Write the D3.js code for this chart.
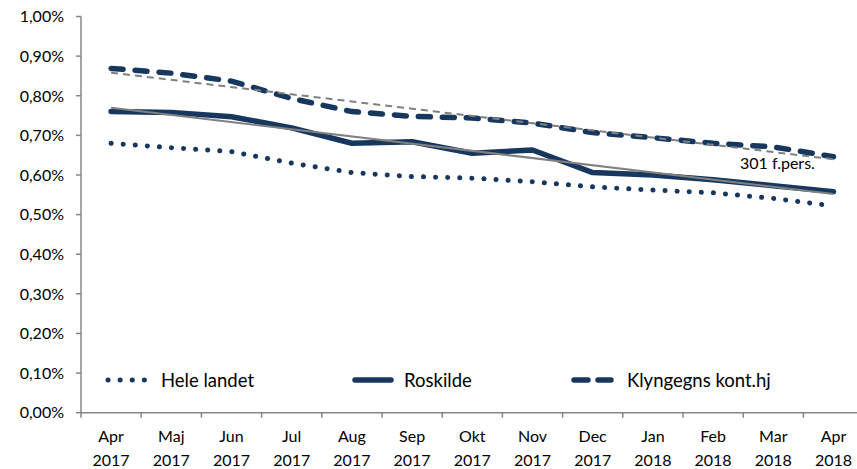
<!doctype html>
<html lang="da">
<head>
  <meta charset="utf-8">
  <style>
    body { margin: 0; background: #fff; }
    svg text { font-family: Lato, "Noto Sans", sans-serif; fill: #000; }
  </style>
</head>
<body>
  <div id="chart"></div>
  <script src="https://d3js.org/d3.v7.min.js"></script>
  <script>
  // data (percent)
  var months = ["Apr 2017", "Maj 2017", "Jun 2017", "Jul 2017", "Aug 2017", "Sep 2017", "Okt 2017",
                "Nov 2017", "Dec 2017", "Jan 2018", "Feb 2018", "Mar 2018", "Apr 2018"];
  var heleLandet = [0.680, 0.669, 0.659, 0.630, 0.606, 0.596, 0.592, 0.583, 0.570, 0.562, 0.555, 0.541, 0.522];
  var roskilde   = [0.760, 0.758, 0.747, 0.719, 0.680, 0.684, 0.655, 0.663, 0.606, 0.600, 0.588, 0.573, 0.558];
  var klynge     = [0.869, 0.857, 0.837, 0.793, 0.760, 0.748, 0.744, 0.731, 0.707, 0.694, 0.680, 0.671, 0.646];
  var yTicks = [0, 0.1, 0.2, 0.3, 0.4, 0.5, 0.6, 0.7, 0.8, 0.9, 1.0];

  var width = 857, height = 469;
  var navy = "#17375e", grey = "#808080", axisCol = "#868686";

  var svg = d3.select("#chart").append("svg")
      .attr("width", width)
      .attr("height", height);

  var x = d3.scaleBand()
      .domain(months)
      .range([81, 81 + 13 * 60.2]);

  var y = d3.scaleLinear()
      .domain([0, 1])
      .range([412.7, 16.5]);

  var fmt = d3.formatLocale({decimal: ",", thousands: ".", grouping: [3], currency: ["", " kr"]}).format(".2f");

  // y axis
  svg.append("line")
     .attr("x1", 81).attr("x2", 81)
     .attr("y1", y(1)).attr("y2", y(0))
     .attr("stroke", axisCol).attr("stroke-width", 1.5);

  svg.selectAll(".ytick").data(yTicks).enter()
     .append("line")
     .attr("x1", 76).attr("x2", 81)
     .attr("y1", function (d) { return y(d); })
     .attr("y2", function (d) { return y(d); })
     .attr("stroke", axisCol).attr("stroke-width", 1.5);

  svg.selectAll(".ylab").data(yTicks).enter()
     .append("text")
     .attr("x", 64)
     .attr("y", function (d) { return y(d); })
     .attr("dy", "0.36em")
     .attr("text-anchor", "end")
     .style("font-size", "16px")
     .text(function (d) { return fmt(d) + "%"; });

  // x axis
  var xEnd = x.range()[1];
  svg.append("line")
     .attr("x1", 81).attr("x2", xEnd)
     .attr("y1", y(0)).attr("y2", y(0))
     .attr("stroke", axisCol).attr("stroke-width", 1.5);

  var bounds = months.map(function (m) { return x(m); }).concat([xEnd]);
  svg.selectAll(".xtick").data(bounds).enter()
     .append("line")
     .attr("x1", function (d) { return d; })
     .attr("x2", function (d) { return d; })
     .attr("y1", y(0)).attr("y2", y(0) + 5)
     .attr("stroke", axisCol).attr("stroke-width", 1.5);

  var xl = svg.selectAll(".xlab").data(months).enter()
     .append("text")
     .attr("text-anchor", "middle")
     .style("font-size", "16px");
  xl.append("tspan")
     .attr("x", function (d) { return x(d) + x.bandwidth() / 2; })
     .attr("y", 442)
     .text(function (d) { return d.split(" ")[0]; });
  xl.append("tspan")
     .attr("x", function (d) { return x(d) + x.bandwidth() / 2; })
     .attr("y", 466)
     .text(function (d) { return d.split(" ")[1]; });

  var cx = function (i) { return x(months[i]) + x.bandwidth() / 2; };
  var line = d3.line()
      .x(function (d, i) { return cx(i); })
      .y(function (d) { return y(d); });

  // linear trend (least squares, like the spreadsheet trendline)
  function trend(vals) {
    var n = vals.length, mx = (n - 1) / 2, my = d3.mean(vals), sxy = 0, sxx = 0;
    vals.forEach(function (v, i) { sxy += (i - mx) * (v - my); sxx += (i - mx) * (i - mx); });
    var b = sxy / sxx;
    return [[0, my - b * mx], [n - 1, my + b * (n - 1 - mx)]];
  }
  var tline = d3.line()
      .x(function (d) { return cx(d[0]); })
      .y(function (d) { return y(d[1]); });

  // series
  svg.append("path").datum(heleLandet)
     .attr("d", line).attr("fill", "none")
     .attr("stroke", navy).attr("stroke-width", 5)
     .attr("stroke-linecap", "round").attr("stroke-dasharray", "0.1 12");

  svg.append("path").datum(roskilde)
     .attr("d", line).attr("fill", "none")
     .attr("stroke", navy).attr("stroke-width", 5.5)
     .attr("stroke-linecap", "round").attr("stroke-linejoin", "round");

  svg.append("path").datum(klynge)
     .attr("d", line).attr("fill", "none")
     .attr("stroke", navy).attr("stroke-width", 5.5)
     .attr("stroke-linecap", "round").attr("stroke-dasharray", "12 12");

  // trend lines
  svg.append("path").datum(trend(roskilde))
     .attr("d", tline).attr("fill", "none")
     .attr("stroke", grey).attr("stroke-width", 2);

  svg.append("path").datum(trend(klynge))
     .attr("d", tline).attr("fill", "none")
     .attr("stroke", grey).attr("stroke-width", 2)
     .attr("stroke-dasharray", "7 5");

  svg.append("text")
     .attr("x", 740).attr("y", 169)
     .style("font-size", "16px")
     .text("301 f.pers.");

  // legend
  var ly = 380;
  svg.append("line")
     .attr("x1", 108).attr("x2", 145).attr("y1", ly).attr("y2", ly)
     .attr("stroke", navy).attr("stroke-width", 5)
     .attr("stroke-linecap", "round").attr("stroke-dasharray", "0.1 12");
  svg.append("text").attr("x", 161).attr("y", ly).attr("dy", "0.36em")
     .style("font-size", "18.5px").text("Hele landet");

  svg.append("line")
     .attr("x1", 355).attr("x2", 391).attr("y1", ly).attr("y2", ly)
     .attr("stroke", navy).attr("stroke-width", 5.5)
     .attr("stroke-linecap", "round");
  svg.append("text").attr("x", 404).attr("y", ly).attr("dy", "0.36em")
     .style("font-size", "18.5px").text("Roskilde");

  svg.append("line")
     .attr("x1", 574).attr("x2", 611).attr("y1", ly).attr("y2", ly)
     .attr("stroke", navy).attr("stroke-width", 5.5)
     .attr("stroke-linecap", "round").attr("stroke-dasharray", "14 10");
  svg.append("text").attr("x", 627).attr("y", ly).attr("dy", "0.36em")
     .style("font-size", "18.5px").text("Klyngegns kont.hj");
  </script>
</body>
</html>
